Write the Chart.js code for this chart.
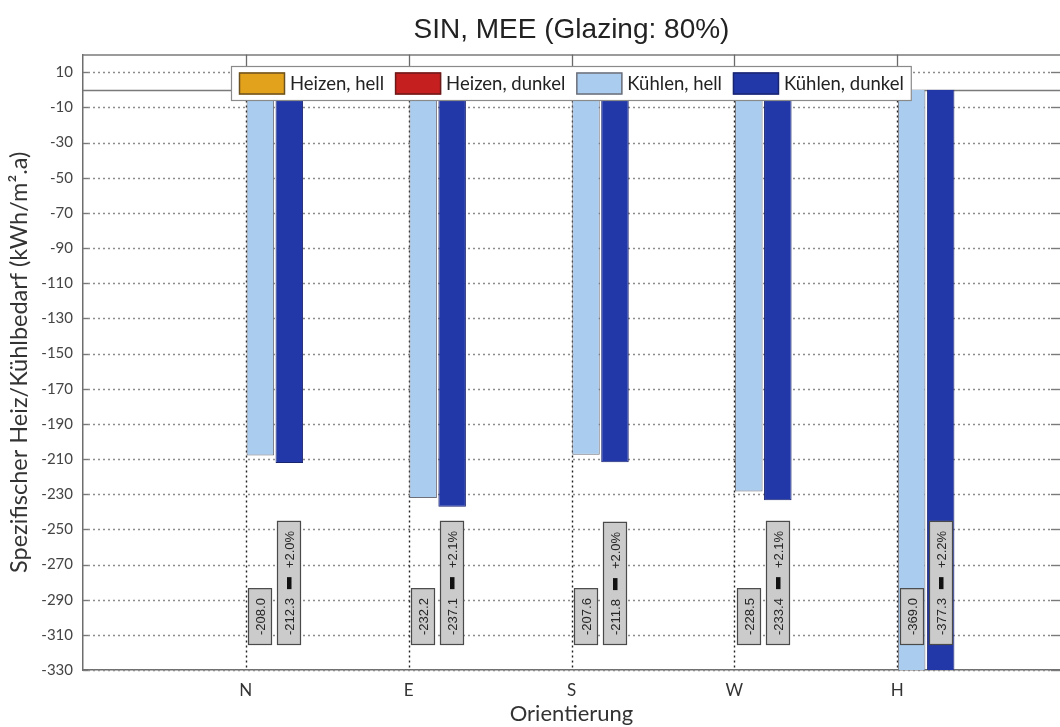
<!DOCTYPE html>
<html>
<head>
<meta charset="utf-8">
<script src="https://cdn.jsdelivr.net/npm/chart.js@4"></script>
<style>
  html, body { margin: 0; padding: 0; background: #ffffff; overflow: hidden; }
  #wrap { width: 1060px; height: 727px; position: relative; }
</style>
</head>
<body>
<div id="wrap"><canvas id="c"></canvas></div>
<script>
// Orientations and specific heating/cooling demand (kWh/m².a)
const categories = ['N', 'E', 'S', 'W', 'H'];
const heizenHell = [0, 0, 0, 0, 0];
const heizenDunkel = [0, 0, 0, 0, 0];
const kuehlenHell = [-208.0, -232.2, -207.6, -228.5, -369.0];
const kuehlenDunkel = [-212.3, -237.1, -211.8, -233.4, -377.3];
const changeLabels = ['+2.0%', '+2.1%', '+2.0%', '+2.1%', '+2.2%'];
const yTickValues = [10, -10, -30, -50, -70, -90, -110, -130, -150, -170, -190,
                     -210, -230, -250, -270, -290, -310, -330];

const seriesNames = ['Heizen, hell', 'Heizen, dunkel', 'Kühlen, hell', 'Kühlen, dunkel'];
const seriesFill = ['#e3a21c', '#c61f1f', '#a9ccef', '#2238a9'];
const seriesBorder = ['#6b5020', '#6b1a1a', '#6d6f78', '#1a2570'];

// one empty slot on each side so the orientations sit inside the frame
const labelsPadded = [''].concat(categories, ['']);
const pad = arr => [null].concat(arr, [null]);

const UI_FONT = 'Lato, "Open Sans", sans-serif';

// grid: solid above the zero line, dotted below it
const gridPlugin = {
  id: 'frameGrid',
  beforeDatasetsDraw(chart) {
    const { ctx, chartArea: a, scales: { x, y } } = chart;
    ctx.save();
    // horizontal dotted grid at every tick
    ctx.lineWidth = 1.4;
    ctx.strokeStyle = '#8c8c8c';
    ctx.setLineDash([2, 3]);
    yTickValues.forEach(v => {
      const py = Math.round(y.getPixelForValue(v)) + 0.5;
      ctx.beginPath(); ctx.moveTo(a.left + 5, py); ctx.lineTo(a.right - 9, py); ctx.stroke();
    });
    ctx.setLineDash([]);
    // tick marks on both sides
    ctx.strokeStyle = '#7a7a7a';
    yTickValues.forEach(v => {
      const py = Math.round(y.getPixelForValue(v)) + 0.5;
      ctx.beginPath(); ctx.moveTo(a.left, py); ctx.lineTo(a.left + 5, py); ctx.stroke();
      ctx.beginPath(); ctx.moveTo(a.right - 9, py); ctx.lineTo(a.right, py); ctx.stroke();
    });
    // top frame and zero line
    const y0 = Math.round(y.getPixelForValue(0)) + 0.5;
    ctx.lineWidth = 1.5;
    ctx.strokeStyle = '#7a7a7a';
    ctx.beginPath(); ctx.moveTo(a.left, a.top + 0.5); ctx.lineTo(a.right, a.top + 0.5); ctx.stroke();
    ctx.beginPath(); ctx.moveTo(a.left, y0); ctx.lineTo(a.right, y0); ctx.stroke();
    // vertical lines at each orientation
    categories.forEach((c, i) => {
      const px = Math.round(x.getPixelForValue(i + 1)) + 0.5;
      ctx.setLineDash([]);
      ctx.strokeStyle = '#6a6a6a';
      ctx.lineWidth = 1.3;
      ctx.beginPath(); ctx.moveTo(px, a.top); ctx.lineTo(px, y0); ctx.stroke();
      ctx.setLineDash([2, 3]);
      ctx.strokeStyle = '#222';
      ctx.lineWidth = 1.4;
      ctx.beginPath(); ctx.moveTo(px, y0); ctx.lineTo(px, a.bottom); ctx.stroke();
    });
    ctx.restore();
  }
};

// value boxes under the cooling bars, written bottom-to-top
const valueBoxPlugin = {
  id: 'valueBoxes',
  afterDatasetsDraw(chart) {
    const { ctx, chartArea: a } = chart;
    const font = '13px "Liberation Sans", Arial, sans-serif';
    const padLen = 10, gap = 9, sepLen = 12, boxW = 24;
    ctx.save();
    ctx.font = font;
    [2, 3].forEach(di => {
      const meta = chart.getDatasetMeta(di);
      const values = di === 2 ? kuehlenHell : kuehlenDunkel;
      values.forEach((v, i) => {
        const el = meta.data[i + 1];
        if (!el) return;
        const valueText = v.toFixed(1);
        const tw1 = ctx.measureText(valueText).width;
        let len = padLen * 2 + tw1;
        let tw2 = 0;
        if (di === 3) {
          tw2 = ctx.measureText(changeLabels[i]).width;
          len += gap * 2 + sepLen + tw2;
        }
        const cx = Math.round(el.x);
        const bottom = a.bottom - 25;
        const top = bottom - len;
        ctx.fillStyle = '#cbcbcb';
        ctx.fillRect(cx - boxW / 2, top, boxW, len);
        ctx.strokeStyle = '#4a4a4a';
        ctx.lineWidth = 1.2;
        ctx.strokeRect(cx - boxW / 2 + 0.5, top + 0.5, boxW - 1, len - 1);
        // rotated text
        ctx.save();
        ctx.translate(cx, bottom);
        ctx.rotate(-Math.PI / 2);
        ctx.fillStyle = '#262626';
        ctx.textBaseline = 'middle';
        ctx.textAlign = 'left';
        let pos = padLen;
        ctx.fillText(valueText, pos, 1);
        pos += tw1;
        if (di === 3) {
          pos += gap;
          ctx.fillStyle = '#111';
          ctx.fillRect(pos, -2, sepLen, 4.5);
          pos += sepLen + gap;
          ctx.fillStyle = '#262626';
          ctx.fillText(changeLabels[i], pos, 1);
        }
        ctx.restore();
      });
    });
    ctx.restore();
  }
};

// legend box drawn inside the plot, near the top
const legendPlugin = {
  id: 'insideLegend',
  afterDraw(chart) {
    const { ctx } = chart;
    ctx.save();
    ctx.font = '18.5px ' + UI_FONT;
    const swW = 46, swH = 22, txtGap = 5, itemGap = 11, padX = 8;
    const widths = seriesNames.map(n => ctx.measureText(n).width);
    const total = widths.reduce((s, w) => s + swW + txtGap + w, 0) + itemGap * (seriesNames.length - 1) + padX * 2;
    const left = 231, top = 66, h = 35;
    ctx.fillStyle = '#ffffff';
    ctx.fillRect(left, top, total, h);
    ctx.strokeStyle = '#8a8a8a';
    ctx.lineWidth = 1.2;
    ctx.strokeRect(left + 0.5, top + 0.5, total - 1, h - 1);
    let x = left + padX;
    const cy = top + h / 2;
    seriesNames.forEach((n, i) => {
      ctx.fillStyle = seriesFill[i];
      ctx.fillRect(x, cy - swH / 2, swW, swH);
      ctx.strokeStyle = seriesBorder[i];
      ctx.lineWidth = 1.5;
      ctx.strokeRect(x + 0.5, cy - swH / 2 + 0.5, swW - 1, swH - 1);
      x += swW + txtGap;
      ctx.fillStyle = '#222';
      ctx.textBaseline = 'middle';
      ctx.textAlign = 'left';
      ctx.fillText(n, x, cy + 1);
      x += widths[i] + itemGap;
    });
    ctx.restore();
  }
};

const datasets = [heizenHell, heizenDunkel, kuehlenHell, kuehlenDunkel].map((d, i) => ({
  label: seriesNames[i],
  data: pad(d),
  backgroundColor: seriesFill[i],
  borderColor: seriesBorder[i],
  borderWidth: i < 2 ? 0 : 1,
  categoryPercentage: 0.712,
  barPercentage: 0.95
}));

new Chart(document.getElementById('c'), {
  type: 'bar',
  data: { labels: labelsPadded, datasets },
  options: {
    responsive: true,
    maintainAspectRatio: false,
    animation: false,
    layout: { padding: { left: 0, right: 0, top: 0, bottom: 0 } },
    plugins: {
      legend: { display: false },
      tooltip: { enabled: false },
      title: {
        display: true,
        text: 'SIN, MEE (Glazing: 80%)',
        fullSize: false,
        color: '#222',
        font: { family: '"Liberation Sans", Arial, sans-serif', size: 28, weight: 'normal' },
        padding: { top: 13, bottom: 8 }
      }
    },
    scales: {
      x: {
        type: 'category',
        offset: false,
        grid: { display: false, drawTicks: false },
        border: { display: true, color: '#6e6e6e', width: 1.5 },
        ticks: {
          autoSkip: false, maxRotation: 0, padding: 10,
          color: '#333',
          font: { family: UI_FONT, size: 17 }
        },
        title: {
          display: true, text: 'Orientierung', color: '#333',
          font: { family: UI_FONT, size: 22 },
          padding: { top: 0, bottom: 0 }
        },
        afterFit(s) { s.height = 57; s.paddingLeft = 0; s.paddingRight = 0; }
      },
      y: {
        min: -330, max: 20,
        grid: { display: false, drawTicks: false },
        border: { display: true, color: '#6e6e6e', width: 1.5 },
        afterBuildTicks(s) { s.ticks = yTickValues.map(v => ({ value: v })); },
        ticks: {
          padding: 10, color: '#444',
          font: { family: UI_FONT, size: 15 },
          callback: v => String(v)
        },
        title: {
          display: true, text: 'Spezifischer Heiz/Kühlbedarf (kWh/m².a)', color: '#333',
          font: { family: UI_FONT, size: 23.5 },
          padding: { top: 5, bottom: 0 }
        },
        afterFit(s) { s.width = 83; }
      }
    }
  },
  plugins: [gridPlugin, valueBoxPlugin, legendPlugin]
});
</script>
</body>
</html>
